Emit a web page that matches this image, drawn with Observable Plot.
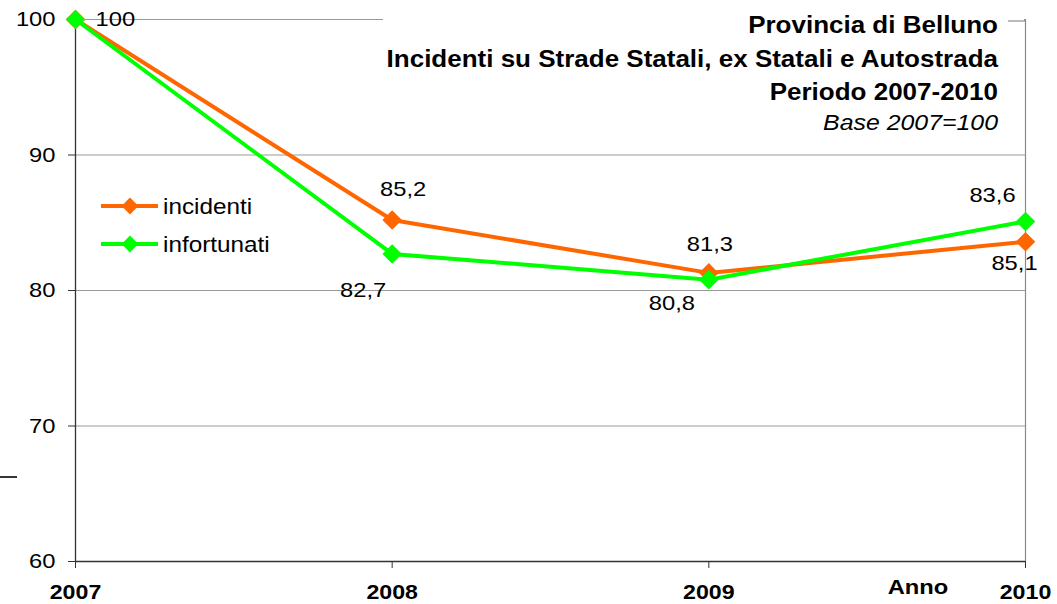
<!DOCTYPE html>
<html><head><meta charset="utf-8">
<script src="https://cdn.jsdelivr.net/npm/d3@7"></script>
<script src="https://cdn.jsdelivr.net/npm/@observablehq/plot@0.6"></script>
<style>
html,body{margin:0;padding:0;background:#fff;}
#chart{position:relative;width:1057px;height:604px;overflow:hidden;}
</style></head><body><div id="chart"></div>
<script>
// ---- data ----
const years = [2007, 2008, 2009, 2010];
const incidenti = [100, 85.2, 81.3, 83.6];
const infortunati = [100, 82.7, 80.8, 85.1];
const seriesNames = ["incidenti", "infortunati"];
const yTicks = [60, 70, 80, 90, 100];
const titleLines = ["Provincia di Belluno", "Incidenti su Strade Statali, ex Statali e Autostrada", "Periodo 2007-2010"];
const subtitle = "Base 2007=100";
const xTitle = "Anno";

// ---- styling / layout ----
const FONT = "'Liberation Sans', Arial, sans-serif";
const colors = ["#FF6600", "#00FF00"];
const STRETCH = 1.13;
// label offsets (px) per series per year; null = no label
const labelLayout = {
  incidenti:   [null, {dx: 11, dy: -31}, {dx: 1, dy: -29}, {dx: -33, dy: -46}],
  infortunati: [{dx: 20, dy: 0, anchor: "start"}, {dx: -29, dy: 36}, {dx: -37, dy: 24}, {dx: -11, dy: 42}]
};

const rows = [];
seriesNames.forEach((s, si) => {
  const vals = si === 0 ? incidenti : infortunati;
  years.forEach((y, i) => rows.push({series: s, year: y, value: vals[i], idx: i}));
});
const labelRows = rows.filter(d => labelLayout[d.series][d.idx]).map(d => {
  const L = labelLayout[d.series][d.idx];
  return {...d, dx: L.dx, dy: L.dy, anchor: L.anchor || "middle", text: String(d.value).replace(".", ",")};
});

const marks = [
  Plot.gridY(yTicks.filter(t => t > 60), {stroke: "#9a9a9a", strokeOpacity: 1, strokeWidth: 1}),
  Plot.ruleX([2010], {y1: 60, y2: 100, stroke: "#8a8a8a", strokeWidth: 1.2}),
  Plot.axisY({ticks: yTicks, tickSize: 7, tickPadding: 13, fontSize: 21, label: null, stroke: "#333", color: "#000"}),
  Plot.axisX({ticks: years, tickFormat: d => String(d), tickSize: 7, tickPadding: 16, fontSize: 20.5, fontWeight: "bold", label: null, stroke: "#333"}),
  Plot.ruleX([2007], {stroke: "#333", strokeWidth: 1.3}),
  Plot.ruleY([60], {stroke: "#333", strokeWidth: 1.3})
];
seriesNames.forEach(s => {
  const data = rows.filter(d => d.series === s);
  marks.push(Plot.line(data, {x: "year", y: "value", stroke: "series", strokeWidth: 4}));
  marks.push(Plot.dot(data, {x: "year", y: "value", fill: "series", symbol: "diamond2", r: 8.8, stroke: null}));
});
labelRows.forEach(d => marks.push(Plot.text([d], {x: "year", y: "value", text: "text", dx: d.dx, dy: d.dy, textAnchor: d.anchor, fontSize: 21, fill: "#000"})));

const chart = Plot.plot({
  width: 1057, height: 604,
  marginLeft: 75, marginRight: 32, marginTop: 19, marginBottom: 43,
  style: {fontFamily: FONT, background: "#fff", color: "#000", overflow: "visible"},
  x: {domain: [2007, 2010]},
  y: {domain: [60, 100]},
  color: {domain: seriesNames, range: colors},
  marks
});
document.getElementById("chart").appendChild(chart);

const svg = d3.select(chart);
const xs = chart.scale("x"), ys = chart.scale("y");
const x1 = xs.apply(2010);

// title box (white background covering the top gridline)
const box = svg.append("g").attr("text-anchor", "end");
box.append("rect").attr("x", 383).attr("y", 8).attr("width", x1 - 1 - 383).attr("height", 138).attr("fill", "#fff");
box.append("line").attr("x1", 1008).attr("x2", x1).attr("y1", 21).attr("y2", 21).attr("stroke", "#8a8a8a").attr("stroke-width", 1.2);
box.append("line").attr("x1", x1).attr("x2", x1).attr("y1", 21).attr("y2", ys.apply(100)).attr("stroke", "#8a8a8a").attr("stroke-width", 1.2);
const tb = [33, 67, 100];
titleLines.forEach((t, i) => box.append("text").attr("x", 998).attr("y", tb[i]).attr("text-anchor", "end")
  .attr("font-family", FONT).attr("font-size", 23).attr("font-weight", "bold").attr("fill", "#000").text(t));
box.append("text").attr("x", 998).attr("y", 130).attr("text-anchor", "end").attr("font-family", FONT)
  .attr("font-size", 22).attr("font-style", "italic").attr("fill", "#000").text(subtitle);

// legend
const leg = svg.append("g").attr("text-anchor", "start");
seriesNames.forEach((s, i) => {
  const y = 206 + i * 38;
  leg.append("line").attr("x1", 101).attr("x2", 158).attr("y1", y).attr("y2", y).attr("stroke", colors[i]).attr("stroke-width", 4);
  leg.append("path").attr("d", d3.symbol(d3.symbolDiamond2, 180)()).attr("transform", `translate(130,${y})`).attr("fill", colors[i]);
  leg.append("text").attr("x", 163).attr("y", y).attr("dy", "0.35em").attr("text-anchor", "start").attr("font-family", FONT).attr("font-size", 21.5).attr("fill", "#000").text(s);
});

// axis title
svg.append("text").attr("x", 918).attr("y", 594).attr("text-anchor", "middle").attr("font-family", FONT)
  .attr("font-size", 21).attr("font-weight", "bold").attr("fill", "#000").text(xTitle);

// stray mark at left edge
svg.append("line").attr("x1", 0).attr("x2", 17).attr("y1", 477).attr("y2", 477).attr("stroke", "#111").attr("stroke-width", 1.7);

// horizontal stretch of the text to match the reference's wide rendering
svg.selectAll("text").each(function() {
  if (this.querySelector("tspan")) return;
  const len = this.getComputedTextLength();
  if (len > 0) { this.setAttribute("textLength", len * STRETCH); this.setAttribute("lengthAdjust", "spacingAndGlyphs"); }
});
</script></body></html>
